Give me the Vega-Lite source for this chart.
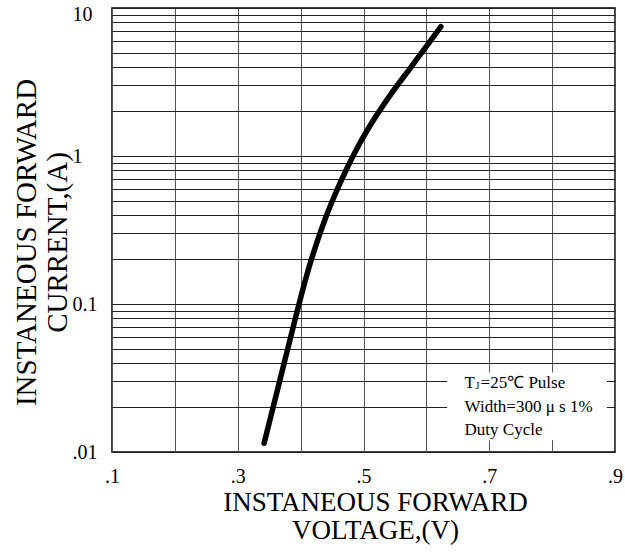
{
  "$schema": "https://vega.github.io/schema/vega-lite/v6.json",
  "width": 503,
  "height": 444,
  "autosize": {"type": "none"},
  "padding": {"left": 112, "top": 8, "right": 10, "bottom": 104},
  "background": "white",
  "config": {
    "view": {"stroke": "black", "strokeWidth": 1.5},
    "font": "Liberation Serif"
  },
  "datasets": {
    "curve": [
      {"v": 0.3419, "i": 0.01145},
      {"v": 0.3518, "i": 0.01689},
      {"v": 0.3618, "i": 0.02492},
      {"v": 0.3717, "i": 0.03677},
      {"v": 0.3817, "i": 0.05426},
      {"v": 0.3916, "i": 0.08005},
      {"v": 0.4019, "i": 0.1181},
      {"v": 0.4129, "i": 0.1743},
      {"v": 0.4254, "i": 0.2571},
      {"v": 0.4395, "i": 0.3794},
      {"v": 0.4556, "i": 0.5598},
      {"v": 0.4737, "i": 0.8257},
      {"v": 0.4941, "i": 1.2184},
      {"v": 0.5177, "i": 1.797},
      {"v": 0.5445, "i": 2.652},
      {"v": 0.5741, "i": 3.913},
      {"v": 0.5976, "i": 5.343},
      {"v": 0.6231, "i": 7.475}
    ],
    "box": [{"v": 0.633, "v2": 0.887, "i": 0.012, "i2": 0.0345}],
    "notes": [
      {"v": 0.6607, "i": 0.0292, "t": "T"},
      {"v": 0.6607, "i": 0.0201, "t": "Width=300 μ s 1%"},
      {"v": 0.6607, "i": 0.0141, "t": "Duty Cycle"}
    ],
    "sub": [{"v": 0.6607, "i": 0.0292, "t": "J"}],
    "rest": [{"v": 0.6607, "i": 0.0292, "t": "=25℃ Pulse"}]
  },
  "encoding": {
    "x": {
      "field": "v",
      "type": "quantitative",
      "scale": {"domain": [0.1, 0.9], "nice": false, "zero": false},
      "axis": {
        "values": [0.1, 0.2, 0.3, 0.4, 0.5, 0.6, 0.7, 0.8, 0.9],
        "labelExpr": "datum.value==0.1?'.1':datum.value==0.3?'.3':datum.value==0.5?'.5':datum.value==0.7?'.7':datum.value==0.9?'.9':''",
        "ticks": false,
        "tickSize": 0,
        "domain": false,
        "grid": true,
        "gridColor": "#555555",
        "gridWidth": 1,
        "gridOpacity": 1,
        "labelFont": "Liberation Serif",
        "labelFontSize": 20,
        "labelColor": "black",
        "labelBaseline": "alphabetic",
        "labelPadding": 30,
        "labelFlush": false,
        "labelOverlap": false,
        "labelBound": false,
        "title": ["INSTANEOUS FORWARD", "VOLTAGE,(V)"],
        "titleFont": "Liberation Serif",
        "titleFontSize": 27,
        "titleFontWeight": "normal",
        "titleColor": "black",
        "titleLineHeight": 28,
        "titleBaseline": "alphabetic",
        "titleAlign": "center",
        "titleX": 263,
        "titleY": 58
      }
    },
    "y": {
      "field": "i",
      "type": "quantitative",
      "scale": {"type": "log", "domain": [0.01, 10], "nice": false},
      "axis": {
        "values": [0.01, 0.02, 0.03, 0.04, 0.05, 0.06, 0.07, 0.08, 0.09, 0.1, 0.2, 0.3, 0.4, 0.5, 0.6, 0.7, 0.8, 0.9, 1, 2, 3, 4, 5, 6, 7, 8, 9, 10],
        "labelExpr": "datum.value==0.01?'.01':datum.value==0.1?'0.1':datum.value==1?'1':datum.value==10?'10':''",
        "ticks": false,
        "tickSize": 0,
        "domain": false,
        "grid": true,
        "gridColor": "#222222",
        "gridWidth": 1,
        "gridOpacity": 1,
        "labelFont": "Liberation Serif",
        "labelFontSize": 20,
        "labelColor": "black",
        "labelAlign": "left",
        "labelBaseline": "middle",
        "labelPadding": 40,
        "labelOffset": {"condition": {"test": "datum.value==10", "value": 6}, "value": 0},
        "labelFlush": false,
        "labelOverlap": false,
        "labelBound": false,
        "title": ["INSTANEOUS FORWARD", "CURRENT,(A)"],
        "titleFont": "Liberation Serif",
        "titleFontSize": 29,
        "titleFontWeight": "normal",
        "titleColor": "black",
        "titleLineHeight": 31,
        "titleAngle": -90,
        "titleBaseline": "alphabetic",
        "titleAlign": "center",
        "titleX": -77,
        "titleY": 234
      }
    }
  },
  "layer": [
    {
      "data": {"name": "box"},
      "mark": {"type": "rect", "fill": "white", "stroke": null},
      "encoding": {
        "x2": {"field": "v2"},
        "y2": {"field": "i2"}
      }
    },
    {
      "data": {"name": "curve"},
      "mark": {"type": "line", "color": "black", "strokeWidth": 5.5, "strokeCap": "round", "interpolate": "monotone"},
      "encoding": {}
    },
    {
      "data": {"name": "notes"},
      "mark": {"type": "text", "align": "left", "baseline": "middle", "font": "Liberation Serif", "fontSize": 17, "color": "black"},
      "encoding": {"text": {"field": "t"}}
    },
    {
      "data": {"name": "sub"},
      "mark": {"type": "text", "align": "left", "baseline": "middle", "font": "Liberation Serif", "fontSize": 10, "dx": 11, "dy": 3, "color": "black"},
      "encoding": {"text": {"field": "t"}}
    },
    {
      "data": {"name": "rest"},
      "mark": {"type": "text", "align": "left", "baseline": "middle", "font": "Liberation Serif", "fontSize": 17, "dx": 16, "color": "black"},
      "encoding": {"text": {"field": "t"}}
    }
  ]
}
